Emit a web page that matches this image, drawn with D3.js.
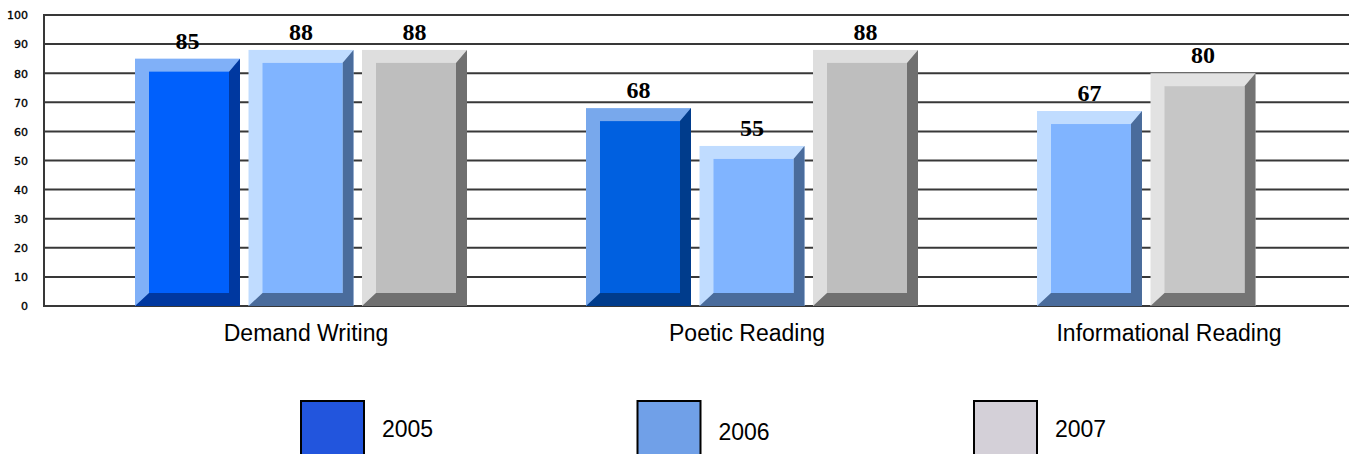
<!DOCTYPE html>
<html><head><meta charset="utf-8">
<script src="https://cdn.jsdelivr.net/npm/d3@7"></script>
<style>html,body{margin:0;padding:0;background:#fff;overflow:hidden}</style>
</head><body>
<svg id="c" width="1349" height="454"></svg>
<script>
const categories = ["Demand Writing", "Poetic Reading", "Informational Reading"];
const years = ["2005", "2006", "2007"];
const values2005 = [85, 68, null];
const values2006 = [88, 55, 67];
const values2007 = [88, 88, 80];
const yTicks = [0, 10, 20, 30, 40, 50, 60, 70, 80, 90, 100];

(function () {
const seriesValues = [values2005, values2006, values2007];
const faceColors = [["#0060fc", "#0060e0", "#0060fc"], ["#80b4ff", "#80b4ff", "#80b4ff"], ["#bebebe", "#bebebe", "#c6c6c6"]];
const lightColors = [["#80b0f8", "#78a8ec", "#80b0f8"], ["#c0dcff", "#c0dcff", "#c0dcff"], ["#dedede", "#dedede", "#e2e2e2"]];
const darkColors = [["#0038a0", "#003c8c", "#0038a0"], ["#4a6c9c", "#4a6c9c", "#4a6c9c"], ["#707070", "#707070", "#747474"]];
const legendColors = ["#2255dd", "#70a0e8", "#d4d0d8"];

const svg = d3.select("#c");
const pLeft = 44, pTop = 15, pBottom = 306, pRight = 1349;

const y = d3.scaleLinear().domain([0, 100]).range([pBottom, pTop]);
const x0 = d3.scaleBand().domain(categories).range([75.5, 1428.5]);
const groupW = 332;
const x1 = d3.scaleBand().domain([0, 1, 2]).range([0, groupW]).paddingInner(0.075);
const xLabel = d3.scaleOrdinal().domain(categories).range([306, 747, 1169]);

// gridlines
svg.append("g").selectAll("line").data(yTicks).join("line")
  .attr("x1", pLeft).attr("x2", pRight)
  .attr("y1", d => y(d)).attr("y2", d => y(d))
  .attr("stroke", "#383838").attr("stroke-width", 2);
svg.append("line").attr("x1", pLeft).attr("x2", pLeft).attr("y1", pTop - 1).attr("y2", pBottom + 1)
  .attr("stroke", "#383838").attr("stroke-width", 2);

// y axis
const yAxis = svg.append("g").attr("transform", `translate(${pLeft - 16},0)`)
  .call(d3.axisLeft(y).tickValues(yTicks).tickSize(0).tickPadding(0));
yAxis.select(".domain").remove();
yAxis.selectAll("text").attr("font-family", "DejaVu Sans").attr("font-size", 11)
  .attr("fill", "#000").attr("stroke", "#000").attr("stroke-width", 0.35).attr("dy", "0.35em");

// bars
const bars = [];
categories.forEach((c, ci) => {
  let slot = 0;
  seriesValues.forEach((vals, si) => {
    const v = vals[ci];
    if (v == null) return;
    bars.push({ c, ci, si, v, slot: slot++ });
  });
});
const bl = 14, bt = 13, br = 11, bb = 13;
const g = svg.append("g");
bars.forEach(b => {
  const xs = x0(b.c) + (x0.bandwidth() - groupW) / 2 + x1(b.slot);
  const xe = xs + x1.bandwidth();
  const ys = y(b.v), ye = y(0);
  g.append("rect").attr("x", xs).attr("y", ys).attr("width", xe - xs).attr("height", ye - ys)
    .attr("fill", lightColors[b.si][b.ci]);
  g.append("path").attr("d", `M${xe},${ys} L${xe},${ye} L${xs},${ye} L${xs + bl},${ye - bb} L${xe - br},${ye - bb} L${xe - br},${ys + bt} Z`)
    .attr("fill", darkColors[b.si][b.ci]);
  g.append("rect").attr("x", xs + bl).attr("y", ys + bt).attr("width", xe - br - xs - bl).attr("height", ye - bb - ys - bt)
    .attr("fill", faceColors[b.si][b.ci]);
  g.append("text").attr("x", (xs + xe) / 2).attr("y", ys - 10)
    .attr("text-anchor", "middle").attr("font-family", "Liberation Serif").attr("font-weight", "bold")
    .attr("font-size", 24).attr("fill", "#000").text(b.v);
});

// x axis labels
svg.append("g").selectAll("text").data(categories).join("text")
  .attr("x", d => xLabel(d)).attr("y", pBottom + 35)
  .attr("text-anchor", "middle").attr("font-family", "Liberation Sans").attr("font-size", 23)
  .attr("fill", "#000").text(d => d);

// legend
const lx = d3.scalePoint().domain(years).range([301, 974]);
const lg = svg.append("g");
years.forEach((yr, i) => {
  lg.append("rect").attr("x", lx(yr)).attr("y", 401).attr("width", 63).attr("height", 70)
    .attr("fill", legendColors[i]).attr("stroke", "#000").attr("stroke-width", 2);
  lg.append("text").attr("x", lx(yr) + 81).attr("y", i === 1 ? 440 : 437)
    .attr("font-family", "Liberation Sans").attr("font-size", 23).attr("fill", "#000").text(yr);
});
})();
</script>
</body></html>
